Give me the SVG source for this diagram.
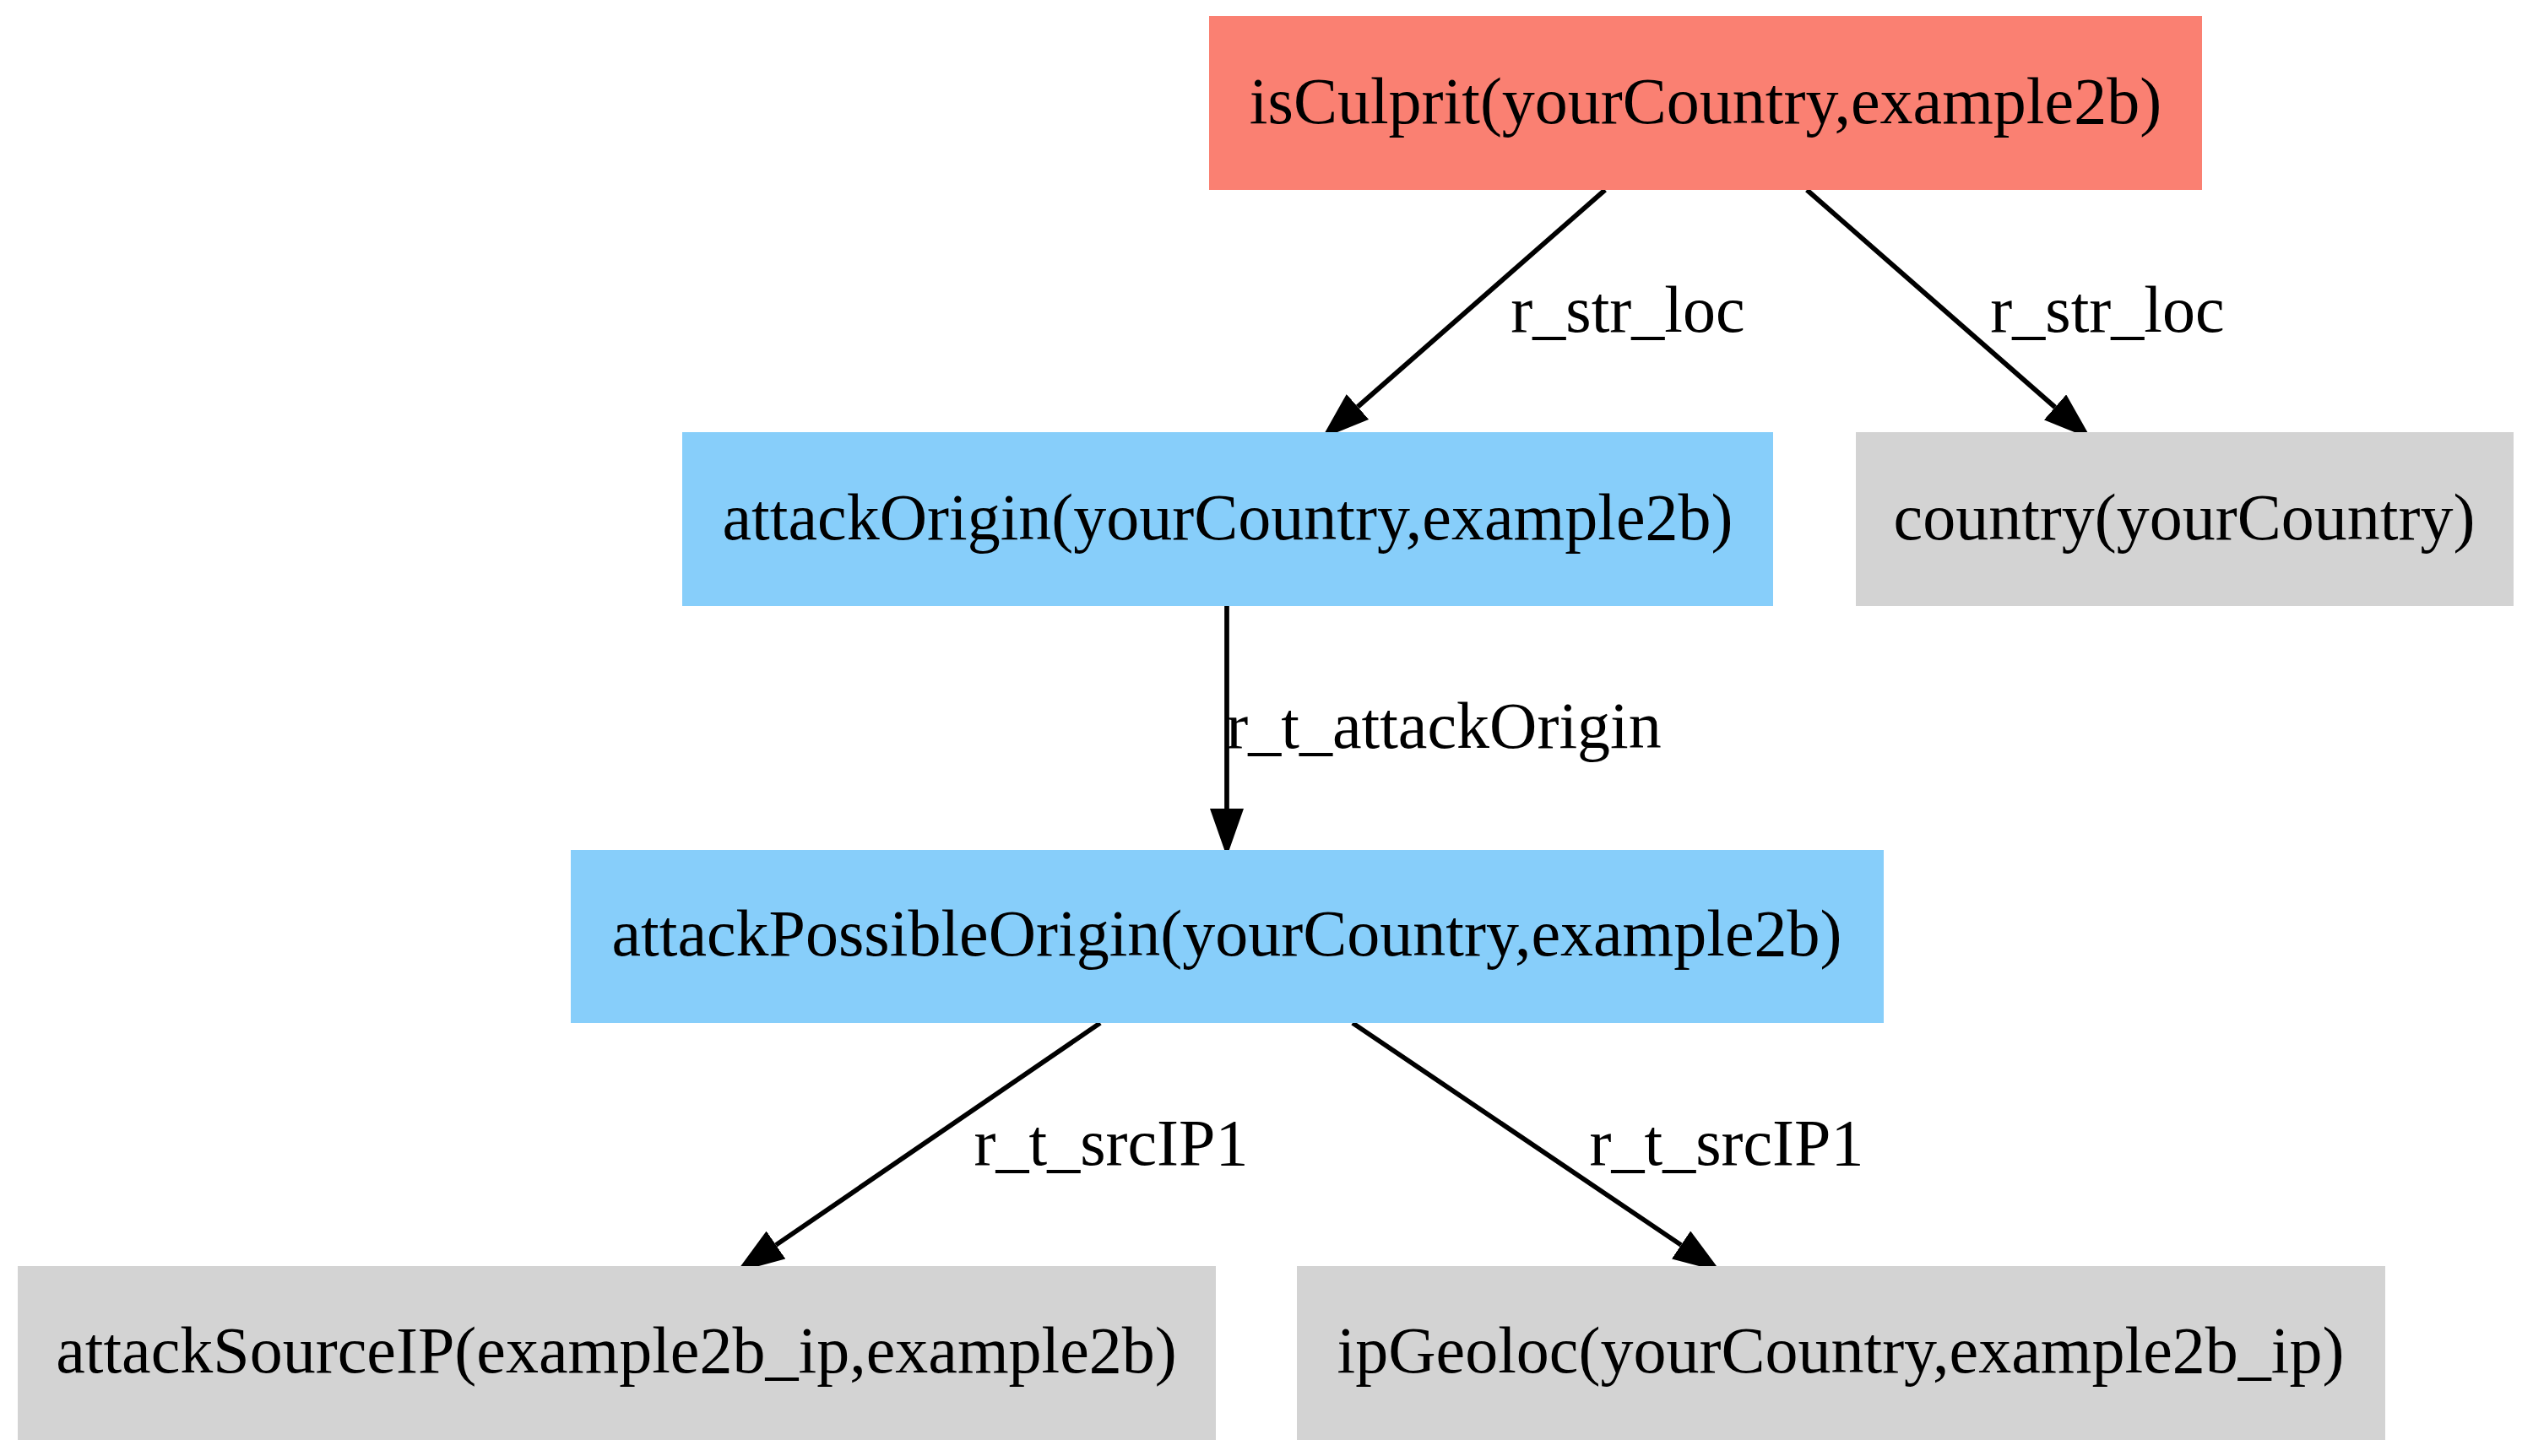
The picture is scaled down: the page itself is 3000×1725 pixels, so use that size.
<svg xmlns="http://www.w3.org/2000/svg" width="3000" height="1725" viewBox="0 0 3000 1725">
<defs>
<style>
.lbl{font-family:"Liberation Serif","Times New Roman",serif;font-size:78px;fill:#000;text-anchor:middle}
.e{fill:none;stroke:#000;stroke-width:5.7}
.red{fill:#fa8072}
.blue{fill:#87cefa}
.grey{fill:#d3d3d3}
</style>
<marker id="ah" viewBox="0 0 57 40" refX="0" refY="20" markerWidth="57" markerHeight="40" markerUnits="userSpaceOnUse" orient="auto">
<path d="M0,0 L57,20 L0,40 z" fill="#000"/>
</marker>
</defs>
<rect width="3000" height="1725" fill="#fff"/>
<g id="edges">
<path class="e" d="M1901,225 L1608,482" marker-end="url(#ah)"/>
<text class="lbl" x="1928" y="393">r_str_loc</text>
<path class="e" d="M2140,225 L2434,482.5" marker-end="url(#ah)"/>
<text class="lbl" x="2496" y="393">r_str_loc</text>
<path class="e" d="M1453,718 L1453,958" marker-end="url(#ah)"/>
<text class="lbl" x="1710" y="886">r_t_attackOrigin</text>
<path class="e" d="M1303,1212 L919,1475" marker-end="url(#ah)"/>
<text class="lbl" x="1316" y="1380">r_t_srcIP1</text>
<path class="e" d="M1602,1212 L1991,1475" marker-end="url(#ah)"/>
<text class="lbl" x="2045" y="1380">r_t_srcIP1</text>
</g>
<g id="isCulprit">
<rect class="red" x="1432" y="19" width="1176" height="206"/>
<text class="lbl" x="2020" y="146">isCulprit(yourCountry,example2b)</text>
</g>
<g id="attackOrigin">
<rect class="blue" x="808" y="512" width="1292" height="206"/>
<text class="lbl" x="1454" y="639">attackOrigin(yourCountry,example2b)</text>
</g>
<g id="country">
<rect class="grey" x="2198" y="512" width="779" height="206"/>
<text class="lbl" x="2587" y="639">country(yourCountry)</text>
</g>
<g id="attackPossibleOrigin">
<rect class="blue" x="676" y="1007" width="1555" height="205"/>
<text class="lbl" x="1453" y="1132">attackPossibleOrigin(yourCountry,example2b)</text>
</g>
<g id="attackSourceIP">
<rect class="grey" x="21" y="1500" width="1419" height="206"/>
<text class="lbl" x="730" y="1626">attackSourceIP(example2b_ip,example2b)</text>
</g>
<g id="ipGeoloc">
<rect class="grey" x="1536" y="1500" width="1289" height="206"/>
<text class="lbl" x="2180" y="1626">ipGeoloc(yourCountry,example2b_ip)</text>
</g>
</svg>
